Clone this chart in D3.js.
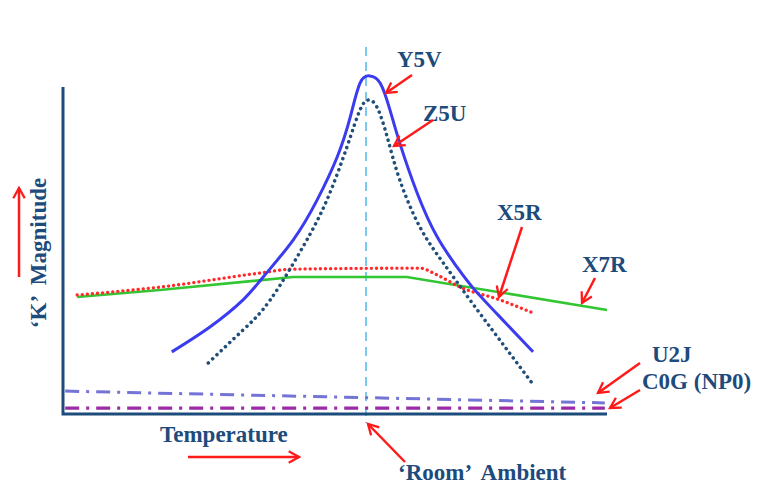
<!DOCTYPE html>
<html>
<head>
<meta charset="utf-8">
<script src="https://cdn.jsdelivr.net/npm/d3@7"></script>
<style>
  body { margin: 0; background: #fff; }
  text { font-family: "Liberation Serif", "Times New Roman", serif; font-weight: bold; fill: #1d4b7c; }
</style>
</head>
<body>
<div id="chart"></div>
<script>
// temperature in arbitrary units (0..100), K magnitude in arbitrary units (0..100)
const roomAmbient = 55.7;

const y5vTemp = [20.0, 27.0, 33.1, 36.8, 42.3, 46.7, 50.4, 52.8, 54.6, 56.4, 58.3, 60.1, 61.9, 65.1, 68.8, 72.4, 75.4, 80.3, 86.4];
const y5vK    = [19.0, 26.6, 34.9, 41.9, 53.2, 65.4, 78.6, 90.8, 101.2, 103.4, 101.2, 93.0, 82.9, 67.6, 54.1, 45.0, 38.5, 29.7, 19.0];

const z5uTemp = [26.7, 33.1, 38.1, 44.1, 48.5, 52.2, 54.6, 56.1, 57.7, 59.6, 61.9, 65.6, 69.9, 74.8, 80.3, 86.2];
const z5uK    = [15.6, 25.7, 34.9, 51.1, 65.4, 81.7, 93.0, 96.0, 93.9, 84.7, 71.6, 57.2, 46.2, 34.9, 22.6, 9.5];

const x7rTemp = [2.6, 17.8, 42.3, 63.2, 100];
const x7rK    = [35.8, 37.9, 41.9, 41.9, 31.8];

const x5rTemp = [2.6, 17.8, 36.2, 42.3, 65.6, 68.8, 73.0, 80.3, 86.4];
const x5rK    = [36.4, 38.8, 43.1, 44.3, 44.6, 42.5, 38.8, 34.9, 30.9];

const u2jTemp = [0.4, 99.6];
const u2jK    = [7.0, 3.4];

const c0gTemp = [0.4, 99.6];
const c0gK    = [1.8, 1.8];

const width = 776, height = 492;
const margin = {top: 87, right: 169, bottom: 78, left: 63};

const svg = d3.select("#chart").append("svg")
    .attr("width", width)
    .attr("height", height);

const x = d3.scaleLinear().domain([0, 100]).range([margin.left, width - margin.right]);
const y = d3.scaleLinear().domain([0, 100]).range([height - margin.bottom, margin.top]);

// arrow head
svg.append("defs").append("marker")
    .attr("id", "head")
    .attr("viewBox", "0 0 12 12")
    .attr("refX", 10).attr("refY", 6)
    .attr("markerWidth", 5.5).attr("markerHeight", 5.5)
    .attr("markerUnits", "strokeWidth")
    .attr("orient", "auto")
  .append("path")
    .attr("d", "M1,1 L10,6 L1,11")
    .attr("fill", "none")
    .attr("stroke", "#ff1a1a")
    .attr("stroke-width", 2)
    .attr("stroke-linejoin", "miter");

// room ambient line
svg.append("line")
    .attr("x1", x(roomAmbient)).attr("x2", x(roomAmbient))
    .attr("y1", 47).attr("y2", 423)
    .attr("stroke", "#4fb8ea")
    .attr("stroke-width", 1.5)
    .attr("stroke-dasharray", "9,6");

const zip = (a, b) => a.map((v, i) => [v, b[i]]);

const series = [
  {t: u2jTemp, k: u2jK, color: "#7474d6", w: 3, dash: "14,7,3,7", curve: d3.curveLinear},
  {t: c0gTemp, k: c0gK, color: "#9b2aa6", w: 3.2, dash: "14,7,3,7", curve: d3.curveLinear},
  {t: x7rTemp, k: x7rK, color: "#33c633", w: 2.6, dash: null, curve: d3.curveLinear},
  {t: x5rTemp, k: x5rK, color: "#ff2b2b", w: 3.3, dash: "0.1,5", curve: d3.curveMonotoneX},
  {t: z5uTemp, k: z5uK, color: "#1f4e79", w: 3.5, dash: "0.1,5.8", curve: d3.curveNatural},
  {t: y5vTemp, k: y5vK, color: "#3b3bf0", w: 3, dash: null, curve: d3.curveNatural}
];

series.forEach(s => {
  const line = d3.line().x(d => x(d[0])).y(d => y(d[1])).curve(s.curve);
  svg.append("path")
      .datum(zip(s.t, s.k))
      .attr("d", line)
      .attr("fill", "none")
      .attr("stroke", s.color)
      .attr("stroke-width", s.w)
      .attr("stroke-linecap", s.dash && s.dash.startsWith("0.1") ? "round" : "butt")
      .attr("stroke-dasharray", s.dash);
});

// axes (plain lines, no ticks)
svg.append("path")
    .attr("d", `M${x(0)},${y(100)} V${y(0)} H${x(100)}`)
    .attr("fill", "none")
    .attr("stroke", "#1d4b7c")
    .attr("stroke-width", 3);

// labels
const labels = [
  {text: "Y5V", x: 397, y: 67},
  {text: "Z5U", x: 423, y: 121},
  {text: "X5R", x: 497, y: 220},
  {text: "X7R", x: 582, y: 272},
  {text: "U2J", x: 652, y: 362},
  {text: "C0G (NP0)", x: 642, y: 389},
  {text: "Temperature", x: 160, y: 442},
  {text: "\u2018Room\u2019  Ambient", x: 398, y: 480}
];

svg.selectAll("text.lab")
  .data(labels)
  .join("text")
    .attr("class", "lab")
    .attr("x", d => d.x)
    .attr("y", d => d.y)
    .attr("font-size", 23)
    .style("white-space", "pre")
    .text(d => d.text);

svg.append("text")
    .attr("transform", "translate(46,253) rotate(-90)")
    .attr("text-anchor", "middle")
    .attr("font-size", 23)
    .style("white-space", "pre")
    .text("\u2018K\u2019  Magnitude");

// red arrows [x1, y1, x2, y2]
const arrows = [
  [412, 75, 386, 93],
  [433, 120, 394, 146],
  [522, 227, 499, 297],
  [595, 278, 582, 303],
  [640, 363, 598, 393],
  [640, 390, 610, 408],
  [405, 462, 368, 424],
  [188, 457, 299, 457],
  [19, 277, 19, 188]
];

svg.selectAll("line.arrow")
  .data(arrows)
  .join("line")
    .attr("class", "arrow")
    .attr("x1", d => d[0]).attr("y1", d => d[1])
    .attr("x2", d => d[2]).attr("y2", d => d[3])
    .attr("stroke", "#ff1a1a")
    .attr("stroke-width", 2.5)
    .attr("marker-end", "url(#head)");
</script>
</body>
</html>
